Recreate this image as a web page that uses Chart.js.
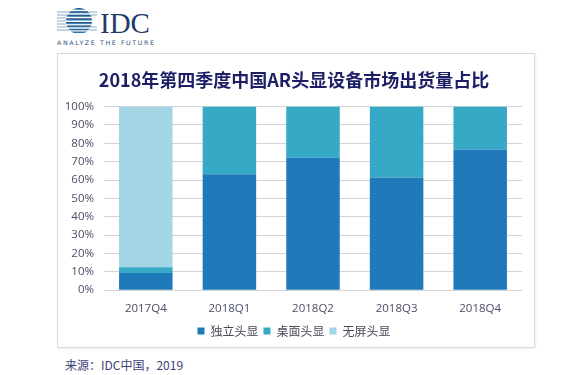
<!DOCTYPE html>
<html>
<head>
<meta charset="utf-8">
<script src="https://cdn.jsdelivr.net/npm/chart.js@4"></script>
<style>
  html, body { margin: 0; padding: 0; background: #fff; width: 579px; height: 375px; overflow: hidden; }
  .logo { position: absolute; left: 55px; top: 6px; }
  .box { position: absolute; left: 57px; top: 53px; width: 476px; height: 293px; border: 1px solid #d9d9df; box-shadow: 1px 1px 2px rgba(0,0,0,0.08); }
  .box canvas { display: block; }
  .source { position: absolute; left: 65px; top: 356px; font: 12px "Noto Sans CJK SC", sans-serif; color: #3b3f78; }
</style>
</head>
<body>
<svg class="logo" width="110" height="42" viewBox="0 0 110 42">
  <defs>
    <clipPath id="globe"><circle cx="24" cy="15" r="13"/></clipPath>
    <linearGradient id="g" x1="0" y1="0" x2="0" y2="1">
      <stop offset="0" stop-color="#1d3d6e"/>
      <stop offset="0.55" stop-color="#2d6fa6"/>
      <stop offset="1" stop-color="#8cc5e0"/>
    </linearGradient>
  </defs>
  <g stroke="#8aa7c4" stroke-width="1">
    <line x1="2" y1="6" x2="14" y2="6"/><line x1="2" y1="9" x2="12" y2="9"/>
    <line x1="2" y1="12" x2="11" y2="12"/><line x1="2" y1="15" x2="11" y2="15"/>
    <line x1="2" y1="18" x2="11" y2="18"/><line x1="2" y1="21" x2="12" y2="21"/>
    <line x1="2" y1="24" x2="14" y2="24"/>
    <line x1="34" y1="6" x2="42" y2="6"/><line x1="36" y1="9" x2="42" y2="9"/>
    <line x1="36" y1="21" x2="42" y2="21"/><line x1="34" y1="24" x2="42" y2="24"/>
  </g>
  <g clip-path="url(#globe)" fill="url(#g)">
    <rect x="10" y="2" width="28" height="2"/><rect x="10" y="5.2" width="28" height="2.3"/>
    <rect x="10" y="8.7" width="28" height="2.4"/><rect x="10" y="12.3" width="28" height="2.5"/>
    <rect x="10" y="16" width="28" height="2.3"/><rect x="10" y="19.5" width="28" height="2.1"/>
    <rect x="10" y="22.8" width="28" height="1.8"/><rect x="10" y="25.6" width="28" height="1.6"/>
  </g>
  <text x="45" y="27" font-family="Liberation Serif, serif" font-size="29" fill="#1f3c6c">IDC</text>
  <text x="2" y="38.5" font-family="DejaVu Sans, sans-serif" font-size="6.3" letter-spacing="1.6" fill="#2c4c7c">ANALYZE THE FUTURE</text>
</svg>

<div class="box"><canvas id="chart" width="476" height="293"></canvas></div>
<div class="source">来源：IDC中国，2019</div>

<script>
const categories = ['2017Q4', '2018Q1', '2018Q2', '2018Q3', '2018Q4'];
const standalone = [9.4, 63.2, 72.2, 61.3, 76.6];   // 独立头显
const tethered = [3.1, 36.8, 27.8, 38.7, 23.4];     // 桌面头显
const screenless = [87.5, 0, 0, 0, 0];              // 无屏头显
const seriesNames = ['独立头显', '桌面头显', '无屏头显'];
const yTicks = [0, 10, 20, 30, 40, 50, 60, 70, 80, 90, 100];

const cjk = '"Noto Sans CJK SC", "Open Sans", sans-serif';
const latin = '"Open Sans", "Noto Sans", sans-serif';

function bar(label, data, color) {
    return { label, data, backgroundColor: color, borderWidth: 0, barPercentage: 0.64, categoryPercentage: 1 };
}

new Chart(document.getElementById('chart'), {
    type: 'bar',
    data: {
        labels: categories,
        datasets: [
            bar(seriesNames[0], standalone, '#2079b9'),
            bar(seriesNames[1], tethered, '#36a9c7'),
            bar(seriesNames[2], screenless, '#a2d6e4'),
        ],
    },
    options: {
        responsive: false,
        animation: false,
        layout: { padding: { left: 8, right: 12, top: 0, bottom: 0 } },
        plugins: {
            title: {
                display: true,
                text: '2018年第四季度中国AR头显设备市场出货量占比',
                color: '#1c1f66',
                font: { family: cjk, size: 18, weight: 'bold' },
                padding: { top: 15, bottom: 16 },
            },
            legend: {
                position: 'bottom',
                labels: {
                    boxWidth: 7, boxHeight: 7, padding: 5,
                    color: '#4a4a5a',
                    font: { family: cjk, size: 12 },
                },
            },
            tooltip: { enabled: false },
        },
        scales: {
            x: {
                stacked: true,
                grid: { display: false },
                border: { display: false },
                ticks: { color: '#4a4d66', font: { family: latin, size: 11.5 }, padding: 4 },
            },
            y: {
                stacked: true,
                min: 0,
                max: 100,
                afterBuildTicks(scale) { scale.ticks = yTicks.map((value) => ({ value })); },
                afterFit(scale) { scale.width = 38; },
                grid: { color: '#d4d4d8', lineWidth: 1, drawTicks: false },
                border: { display: false },
                ticks: { color: '#4a4d66', font: { family: latin, size: 11.5 }, padding: 10, callback: (value) => `${value}%` },
            },
        },
    },
});
</script>
</body>
</html>
